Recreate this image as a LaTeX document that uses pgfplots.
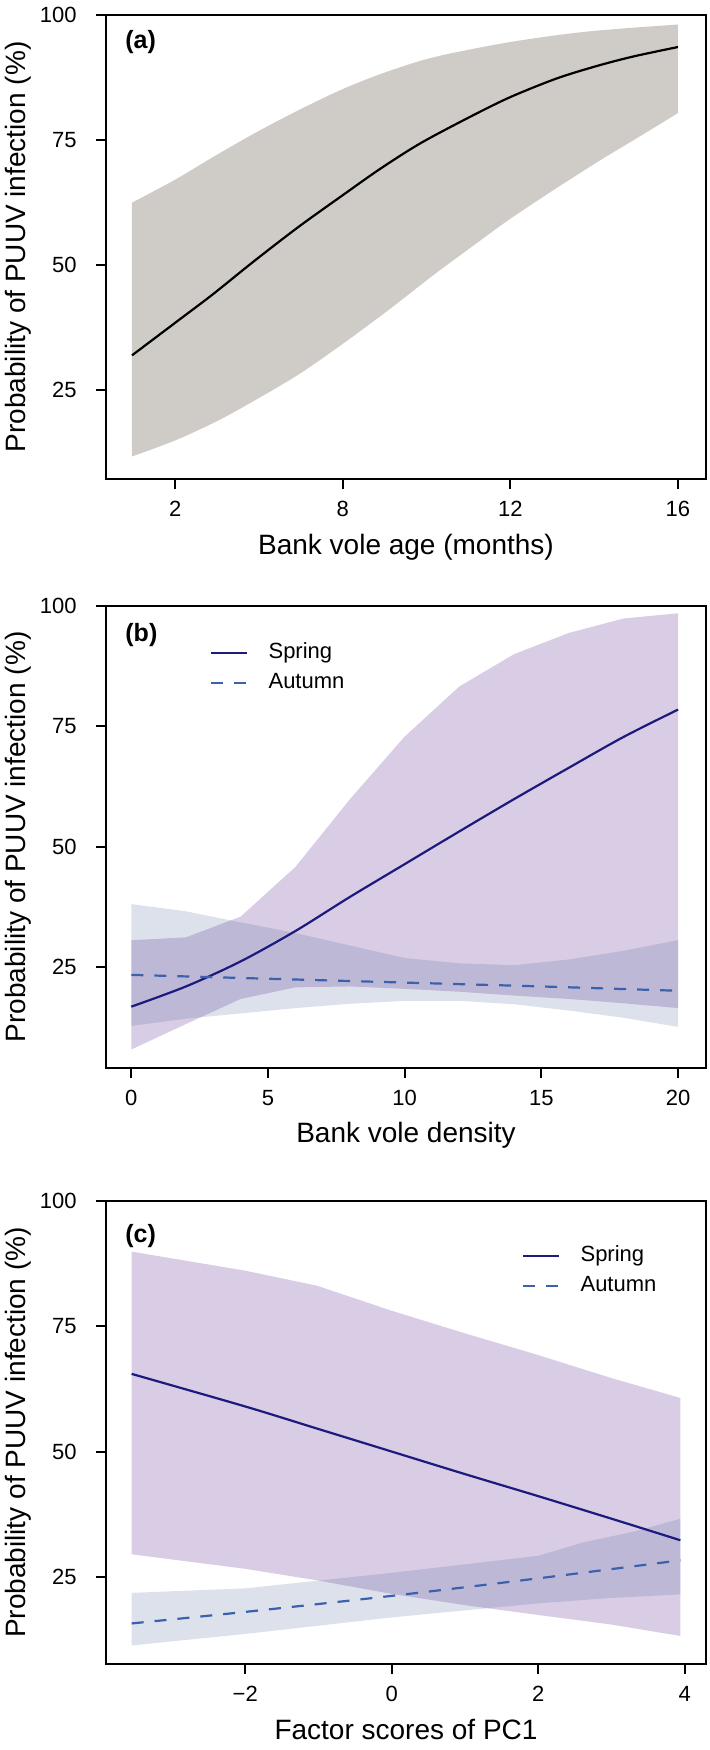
\documentclass[border=0pt]{standalone}
\usepackage{fontspec}
\setmainfont{Liberation Sans}
\usepackage{pgfplots}
\pgfplotsset{compat=1.18}
\usepgfplotslibrary{fillbetween}
\definecolor{bandgray}{HTML}{CFCCC7}
\definecolor{sprfill}{HTML}{663399}
\definecolor{autfill}{HTML}{5569A0}
\definecolor{sprline}{HTML}{1C1A7C}
\definecolor{autline}{HTML}{3A62AC}
\tikzset{
 plab/.style={font=\fontsize{12.5}{14}\selectfont\bfseries, anchor=west, inner sep=0pt},
 spr/.style={sprline, line width=1.1pt},
 aut/.style={autline, line width=1.1pt, dash pattern=on 6pt off 5.5pt},
}
\pgfplotsset{
 panel/.style={
  scale only axis, width=300pt,
  axis line style={line width=1pt},
  every tick/.style={line width=1pt, black},
  tick align=outside, major tick length=5pt,
  tick pos=left,
  ytick={25,50,75,100}, ymax=100,
  no markers,
  /pgf/number format/assume math mode=true,
  tick label style={font=\fontsize{11}{13}\selectfont},
  xticklabel style={inner sep=0pt, anchor=north, yshift=-6pt},
  yticklabel style={inner sep=0pt, anchor=east, xshift=-9.5pt},
  label style={font=\fontsize{14}{16}\selectfont},
  ylabel={Probability of PUUV infection (\%)},
  ylabel style={at={(axis description cs:-0.134,0.5)}, anchor=base},
  xlabel style={at={(axis description cs:0.5,-0.162)}, anchor=base},
  legend cell align=left,
  legend image code/.code={\draw[##1] (0pt,0pt) -- (18pt,0pt);},
 },
 leg/.style={legend style={draw=none, fill=none, font=\fontsize{11}{13}\selectfont,
   at={#1}, anchor=north west, inner sep=0pt, row sep=4.5pt, column sep=10pt,
   nodes={inner sep=0pt, text height=8pt, text depth=2.5pt}}},
}
\begin{document}
\begin{tikzpicture}
% ---------------- (a)
\begin{axis}[panel, at={(53pt,-239.5pt)}, anchor=south west, height=232pt,
  xmin=2.35, xmax=16.67, ymin=7.3,
  xtick={4,8,12,16}, xticklabels={2,8,12,16},
  xlabel={Bank vole age (months)}]
\addplot[name path=AU, draw=none, forget plot, smooth] coordinates {
(2.97,62.5)(4,67.1)(4.9,71.6)(5.88,76.3)(6.95,81.0)(8,85.2)(9.0,88.5)(10.19,91.6)(12,94.6)(13.85,96.7)(16,98.1)};
\addplot[name path=AL, draw=none, forget plot, smooth] coordinates {
(2.97,11.8)(4,15.0)(5.01,18.9)(5.88,22.9)(6.95,28.2)(8,34.3)(9.1,41.1)(10.19,48.2)(11.26,54.8)(12,59.3)(13.1,65.4)(14.17,71.1)(15.14,76.0)(16,80.4)};
\addplot[fill=bandgray, draw=none, forget plot] fill between[of=AU and AL];
\addplot[black, line width=1.1pt, smooth] coordinates {
(2.97,32.0)(4,38.5)(4.9,44.2)(5.88,50.8)(6.95,57.7)(8,64.0)(8.9,69.3)(9.86,74.4)(11.05,79.7)(12,83.6)(13.1,87.3)(14.06,89.8)(14.93,91.7)(16,93.6)};
\node[plab] at (axis description cs:0.0317,0.941) {(a)};
\end{axis}
% ---------------- (b)
\begin{axis}[panel, at={(53pt,-534pt)}, anchor=south west, height=231pt,
  xmin=-0.925, xmax=21.02, ymin=4.06,
  xtick={0,5,10,15,20},
  xlabel={Bank vole density},
  leg={(axis description cs:0.1733,0.9225)}]
\addplot[name path=SU, draw=none, forget plot] coordinates {
(0,30.6)(2,31.2)(4,35.5)(6,45.8)(8,59.9)(10,72.9)(12,83.3)(14,90.0)(16,94.4)(18,97.4)(20,98.5)};
\addplot[name path=SL, draw=none, forget plot] coordinates {
(0,7.9)(2,13.2)(4,18.4)(6,20.8)(8,21.0)(10,20.5)(12,19.9)(14,19.1)(16,18.4)(18,17.5)(20,16.5)};
\addplot[name path=TU, draw=none, forget plot] coordinates {
(0,38.1)(2,36.6)(4,34.3)(6,32.1)(8,29.5)(10,26.9)(12,25.8)(14,25.4)(16,26.6)(18,28.4)(20,30.6)};
\addplot[name path=TL, draw=none, forget plot] coordinates {
(0,12.8)(2,14.3)(4,15.4)(6,16.5)(8,17.4)(10,18.0)(12,18.0)(14,17.3)(16,16.0)(18,14.5)(20,12.6)};
\addplot[fill=sprfill, fill opacity=0.25, draw=none, forget plot] fill between[of=SU and SL];
\addplot[fill=autfill, fill opacity=0.2, draw=none, forget plot] fill between[of=TU and TL];
\addplot[spr, smooth] coordinates {
(0,16.8)(2,21.0)(4,26.2)(6,32.5)(8,39.6)(10,46.4)(12,53.2)(14,59.9)(16,66.4)(18,72.8)(20,78.5)};
\addlegendentry{Spring}
\addplot[aut] coordinates {
(0,23.4)(5,22.6)(10,21.8)(15,21.0)(20,20.1)};
\addlegendentry{Autumn}
\node[plab] at (axis description cs:0.0317,0.937) {(b)};
\end{axis}
% ---------------- (c)
\begin{axis}[panel, at={(53pt,-832pt)}, anchor=south west, height=231.5pt,
  xmin=-3.90, xmax=4.29, ymin=7.6,
  xtick={-2,0,2,4}, xticklabels={−2,0,2,4},
  xlabel={Factor scores of PC1},
  leg={(axis description cs:0.6933,0.905)}]
\addplot[name path=SU, draw=none, forget plot] coordinates {
(-3.55,89.9)(-2,86.1)(-1.02,83.1)(0,78.1)(1.02,73.5)(1.99,69.3)(2.99,64.7)(3.94,60.7)};
\addplot[name path=SL, draw=none, forget plot] coordinates {
(-3.55,29.5)(-2,26.6)(-1.02,24.3)(0,21.6)(1.02,19.3)(1.99,17.4)(2.99,15.5)(3.94,13.2)};
\addplot[name path=TU, draw=none, forget plot] coordinates {
(-3.55,21.8)(-2,22.7)(0,25.8)(2,29.2)(2.62,31.9)(3.3,34.0)(3.94,36.6)};
\addplot[name path=TL, draw=none, forget plot] coordinates {
(-3.55,11.3)(-2,13.6)(0,16.9)(2,19.7)(3,20.8)(3.94,21.5)};
\addplot[fill=sprfill, fill opacity=0.25, draw=none, forget plot] fill between[of=SU and SL];
\addplot[fill=autfill, fill opacity=0.2, draw=none, forget plot] fill between[of=TU and TL];
\addplot[spr, smooth] coordinates {
(-3.55,65.5)(-2,59.0)(-1,54.5)(0,50.0)(1,45.5)(2,41.1)(3,36.6)(3.94,32.3)};
\addlegendentry{Spring}
\addplot[aut, smooth] coordinates {
(-3.55,15.7)(-2,18.0)(0,21.2)(2,24.7)(3.94,28.3)};
\addlegendentry{Autumn}
\node[plab] at (axis description cs:0.0317,0.924) {(c)};
\end{axis}
\pgfresetboundingbox
\useasboundingbox (0,0) rectangle (354.5pt,-875pt);
\end{tikzpicture}
\end{document}
